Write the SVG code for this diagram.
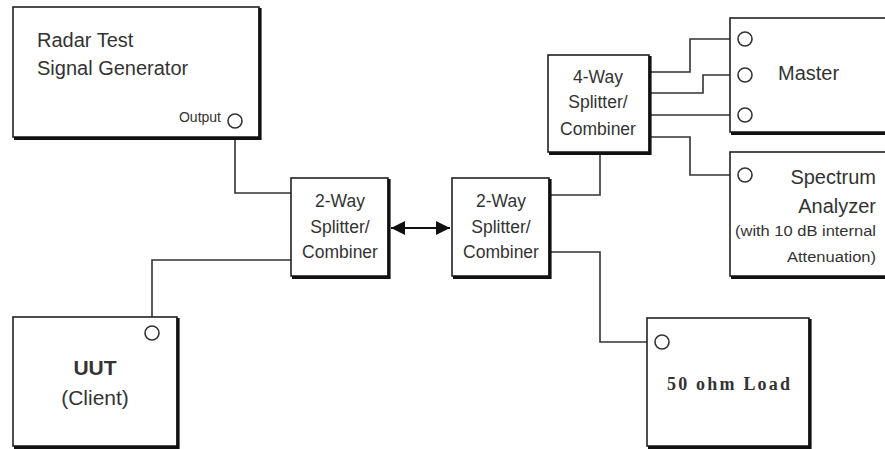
<svg xmlns="http://www.w3.org/2000/svg" width="885" height="449" viewBox="0 0 885 449">
<style>
.box{fill:#fff;stroke:#222;stroke-width:1.6}
.sh{fill:none;stroke:#111;stroke-width:3.2}
.w{fill:none;stroke:#333;stroke-width:1.6}
.port{fill:#fff;stroke:#333;stroke-width:1.6}
.t{font-family:"Liberation Sans",Arial,sans-serif;fill:#333}
.c{text-anchor:middle}
.s17{font-size:17.5px}
.s20{font-size:20px}
.s21{font-size:21px}
.r{text-anchor:end}
</style>
<defs>
<marker id="ah" viewBox="0 0 10 10" refX="10" refY="5" markerWidth="14" markerHeight="14" markerUnits="userSpaceOnUse" orient="auto-start-reverse">
<path d="M0,0 L10,5 L0,10 z" fill="#111"/>
</marker>
</defs>
<rect width="885" height="449" fill="#fff"/>
<g id="connectors">
<polyline class="w" points="235,129 235,193 291,193"/>
<polyline class="w" points="152,326 152,260 291,260"/>
<line x1="391" y1="228" x2="450" y2="228" stroke="#111" stroke-width="1.8" marker-start="url(#ah)" marker-end="url(#ah)"/>
<polyline class="w" points="550,195 600,195 600,153"/>
<polyline class="w" points="550,252 600,252 600,342 655,342"/>
<polyline class="w" points="650,72 690,72 690,39 738,39"/>
<polyline class="w" points="650,93 703,93 703,75 738,75"/>
<polyline class="w" points="650,115 738,115"/>
<polyline class="w" points="650,137 690,137 690,175 738,175"/>
</g>
<g id="radar-generator">
<rect class="box" x="13" y="7" width="246" height="130"/>
<polyline class="sh" points="260,8 260,138.5 14,138.5"/>
<text class="t s20" x="37" y="47">Radar Test</text>
<text class="t s20" x="37" y="75">Signal Generator</text>
<text class="t r" x="221" y="122" font-size="14">Output</text>
<circle class="port" cx="235" cy="121" r="7"/>
</g>
<g id="uut">
<rect class="box" x="13" y="317" width="164" height="129"/>
<polyline class="sh" points="178,318 178,447.5 14,447.5"/>
<circle class="port" cx="152" cy="333" r="7"/>
<text class="t c s21" x="95" y="375" font-weight="bold">UUT</text>
<text class="t c s21" x="95" y="405">(Client)</text>
</g>
<g id="splitter1">
<rect class="box" x="291" y="178" width="97" height="98"/>
<polyline class="sh" points="389,179 389,277.5 292,277.5"/>
<text class="t c s17" x="340" y="207">2-Way</text>
<text class="t c s17" x="340" y="233">Splitter/</text>
<text class="t c s17" x="340" y="258">Combiner</text>
</g>
<g id="splitter2">
<rect class="box" x="452" y="178" width="97" height="98"/>
<polyline class="sh" points="550,179 550,277.5 453,277.5"/>
<text class="t c s17" x="501" y="207">2-Way</text>
<text class="t c s17" x="501" y="233">Splitter/</text>
<text class="t c s17" x="501" y="258">Combiner</text>
</g>
<g id="splitter4">
<rect class="box" x="548" y="55" width="101" height="97"/>
<polyline class="sh" points="650,56 650,153.5 549,153.5"/>
<text class="t c s17" x="598" y="83">4-Way</text>
<text class="t c s17" x="598" y="108">Splitter/</text>
<text class="t c s17" x="598" y="135">Combiner</text>
</g>
<g id="master">
<rect class="box" x="730" y="18" width="170" height="114"/>
<line class="sh" x1="731" y1="133.5" x2="885" y2="133.5"/>
<circle class="port" cx="745" cy="39" r="7"/>
<circle class="port" cx="745" cy="75" r="7"/>
<circle class="port" cx="745" cy="115" r="7"/>
<text class="t s20" x="778" y="80">Master</text>
</g>
<g id="spectrum-analyzer">
<rect class="box" x="730" y="152" width="170" height="124"/>
<line class="sh" x1="731" y1="277.5" x2="885" y2="277.5"/>
<circle class="port" cx="745" cy="175" r="7"/>
<text class="t r s20" x="876" y="184">Spectrum</text>
<text class="t r s20" x="876" y="213">Analyzer</text>
<text class="t" x="735" y="236" font-size="15.5" textLength="141" lengthAdjust="spacingAndGlyphs">(with 10 dB internal</text>
<text class="t" x="787" y="262" font-size="15.5" textLength="89" lengthAdjust="spacingAndGlyphs">Attenuation)</text>
</g>
<g id="load">
<rect class="box" x="647" y="318" width="162" height="128"/>
<polyline class="sh" points="810,319 810,447.5 648,447.5"/>
<circle class="port" cx="662" cy="342" r="7"/>
<text x="667" y="390" font-family="Liberation Serif,'Times New Roman',serif" font-size="18" font-weight="bold" fill="#333" textLength="123">50 ohm Load</text>
</g>
</svg>
